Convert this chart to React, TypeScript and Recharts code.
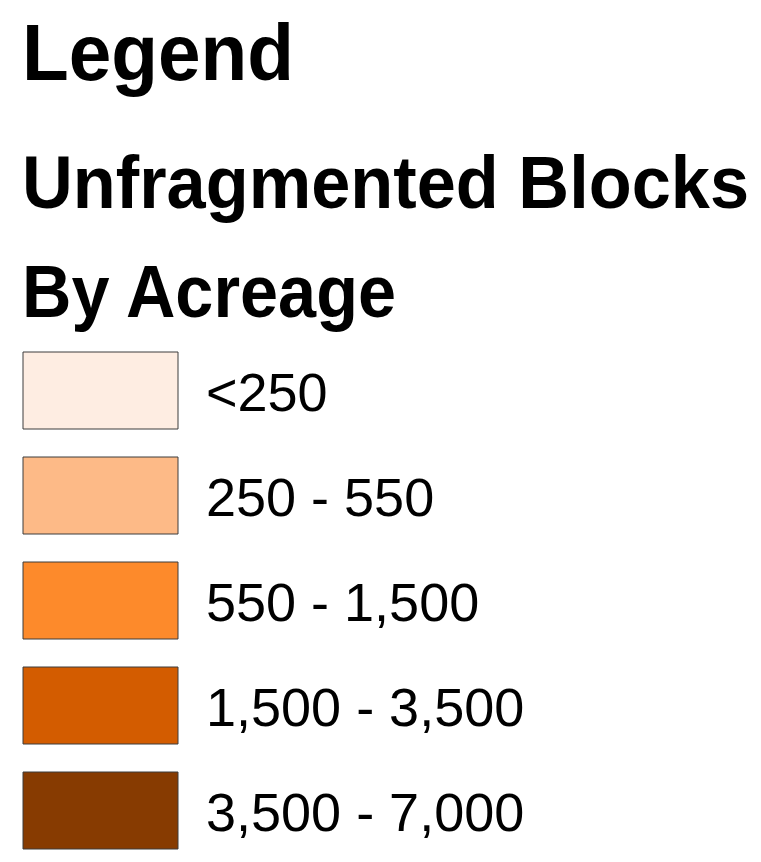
import { Bar, BarChart, Cell, LabelList, XAxis, YAxis } from "recharts";

// legend classes, lightest to darkest
const classLabels = ["<250", "250 - 550", "550 - 1,500", "1,500 - 3,500", "3,500 - 7,000"];
const classColors = ["#feede2", "#fdba87", "#fd8a2b", "#d35c00", "#873b01"];
const swatchValues = [1, 1, 1, 1, 1];

const titleLines = ["Legend", "Unfragmented Blocks", "By Acreage"];

const data = classLabels.map((label, i) => ({ label, value: swatchValues[i] }));

const FONT = "'Liberation Sans', Arial, sans-serif";

// label sits right of the swatch, baseline a bit below its middle
const renderLabel = (props: any) => {
  const { x, y, width, height, value } = props;
  return (
    <text
      x={x + width + 28}
      y={y + height / 2 + 20}
      fontFamily={FONT}
      fontSize={54}
      fill="#000"
    >
      {value}
    </text>
  );
};

export default function App() {
  return (
    <div
      style={{
        position: "absolute",
        left: 0,
        top: 0,
        width: 761,
        height: 862,
        overflow: "hidden",
        background: "#fff",
      }}
    >
      <BarChart
        width={761}
        height={870}
        data={data}
        layout="vertical"
        barSize={77}
        margin={{ top: 338, right: 583, bottom: 7, left: 23 }}
      >
        <XAxis type="number" domain={[0, 1]} hide />
        <YAxis type="category" dataKey="label" hide />
        <Bar dataKey="value" stroke="#3c3c3c" strokeWidth={1} isAnimationActive={false}>
          {classColors.map((c) => (
            <Cell key={c} fill={c} />
          ))}
          <LabelList dataKey="label" content={renderLabel} />
        </Bar>
        <text x={22} y={80} fontFamily={FONT} fontWeight="bold" fontSize={79} textLength={272} lengthAdjust="spacingAndGlyphs">
          {titleLines[0]}
        </text>
        <text x={22} y={208} fontFamily={FONT} fontWeight="bold" fontSize={74} textLength={727} lengthAdjust="spacingAndGlyphs">
          {titleLines[1]}
        </text>
        <text x={22} y={317} fontFamily={FONT} fontWeight="bold" fontSize={75} textLength={374} lengthAdjust="spacingAndGlyphs">
          {titleLines[2]}
        </text>
      </BarChart>
    </div>
  );
}
